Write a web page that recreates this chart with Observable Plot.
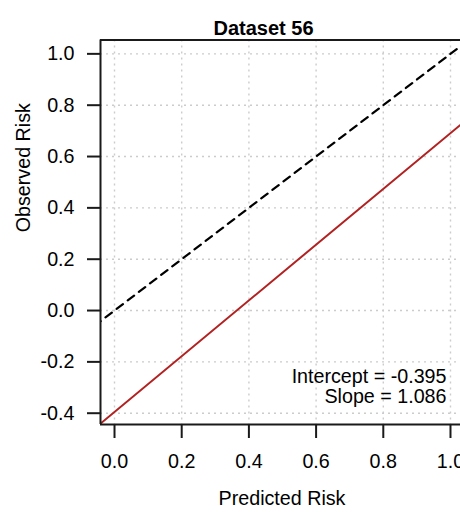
<!DOCTYPE html>
<html>
<head>
<meta charset="utf-8">
<script src="https://cdn.jsdelivr.net/npm/d3@7"></script>
<script src="https://cdn.jsdelivr.net/npm/@observablehq/plot@0.6"></script>
<style>
  html, body { margin: 0; padding: 0; background: #fff; overflow: hidden; }
  #chart { width: 460px; height: 513px; }
</style>
</head>
<body>
<div id="chart"></div>
<script>
// ---- data ----
const title = "Dataset 56";
const xLabel = "Predicted Risk";
const yLabel = "Observed Risk";
const xTicks = [0.0, 0.2, 0.4, 0.6, 0.8, 1.0];
const yTicks = [-0.4, -0.2, 0.0, 0.2, 0.4, 0.6, 0.8, 1.0];
const xDomain = [-0.0417, 1.0298];
const yDomain = [-0.444, 1.054];
const intercept = -0.395;
const slope = 1.086;
const lineX = [-0.06, 1.06];
const annotation = ["Intercept = -0.395", "Slope = 1.086"];

// ---- derived tables ----
const diag = lineX.map(x => ({x, y: x}));
const calib = lineX.map(x => ({x, y: intercept + slope * x}));
const fmt = d => d.toFixed(1);
const FONT = "'Liberation Sans', Arial, Helvetica, sans-serif";

const chart = Plot.plot({
  width: 460,
  height: 513,
  marginLeft: 100,
  marginRight: 0,
  marginTop: 39.5,
  marginBottom: 89,
  style: {fontFamily: FONT, background: "#fff", color: "#000", overflow: "hidden"},
  x: {domain: xDomain, ticks: xTicks},
  y: {domain: yDomain, ticks: yTicks},
  marks: [
    Plot.gridX(xTicks, {stroke: "#cccccc", strokeOpacity: 1, strokeWidth: 1.4, strokeDasharray: "2,4"}),
    Plot.gridY(yTicks, {stroke: "#cccccc", strokeOpacity: 1, strokeWidth: 1.4, strokeDasharray: "2,4"}),
    Plot.line(diag, {x: "x", y: "y", stroke: "#000", strokeWidth: 2.2, strokeDasharray: "8,6", clip: true}),
    Plot.line(calib, {x: "x", y: "y", stroke: "#b22222", strokeWidth: 2, clip: true}),
    Plot.ruleX([xDomain[0]], {stroke: "#1a1a1a", strokeWidth: 2}),
    Plot.ruleY(yDomain, {stroke: "#1a1a1a", strokeWidth: 2}),
    Plot.axisX(xTicks, {tickSize: 14, tickPadding: 15, fontSize: 19.7, tickFormat: fmt, label: null, strokeWidth: 2, stroke: "#1a1a1a"}),
    Plot.axisY(yTicks, {tickSize: 13, tickPadding: 13, fontSize: 19.7, tickFormat: fmt, label: null, strokeWidth: 2, stroke: "#1a1a1a"}),
    Plot.text([title], {frameAnchor: "top", dx: -17, dy: -19, fontSize: 20, fontWeight: "bold", fill: "#000"}),
    Plot.text([xLabel], {frameAnchor: "bottom", dx: 1.5, dy: 80.5, fontSize: 19.7, fill: "#000"}),
    Plot.text([yLabel], {frameAnchor: "left", dx: -77, dy: 0, rotate: -90, fontSize: 19.7, fill: "#000"}),
    Plot.text([annotation.join("\n")], {frameAnchor: "bottom-right", textAnchor: "end", lineAnchor: "bottom", lineHeight: 1.015, dx: -14, dy: -21.3, fontSize: 19.7, fill: "#000"})
  ]
});
document.getElementById("chart").appendChild(chart);
</script>
</body>
</html>
